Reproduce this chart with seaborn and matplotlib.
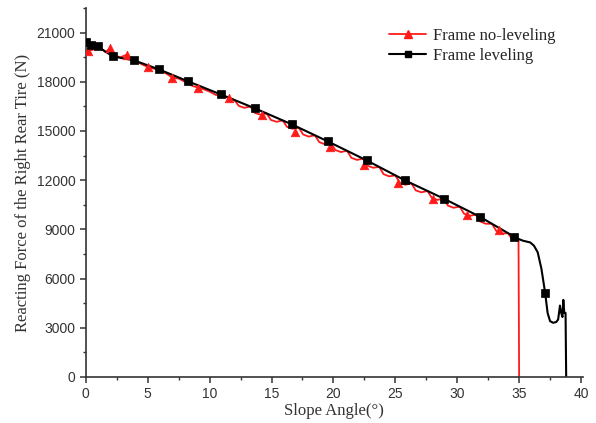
import numpy as np
import pandas as pd
import seaborn as sns
import matplotlib
matplotlib.use("Agg")
import matplotlib.pyplot as plt
from matplotlib.lines import Line2D
from matplotlib.ticker import MultipleLocator

# red curve: frame without leveling
red_x = [0.0, 0.3, 0.8, 1.2, 1.6, 1.95, 2.3, 2.8, 3.3, 3.7, 4.3, 5.0, 5.5, 6.0,
         6.5, 7.0, 7.5, 8.0, 8.6, 9.05, 9.5, 10.0, 10.5, 11.0, 11.6,
         12.0, 12.35, 12.8, 13.3, 13.65, 14.1, 14.6, 14.95, 15.4,
         15.9, 16.25, 16.7, 17.2, 17.55, 18.0, 18.5, 18.85, 19.3,
         19.8, 20.15, 20.6, 21.1, 21.45, 21.9, 22.4, 22.75, 23.2,
         23.7, 24.05, 24.5, 25.0, 25.35, 25.8, 26.3, 26.65, 27.1,
         27.6, 27.95, 28.4, 28.9, 29.25, 29.7, 30.2, 30.55, 31.0,
         31.5, 31.85, 32.3, 32.8, 33.15, 33.6, 34.1, 34.45, 34.95, 35.0]
red_y = [19850, 19900, 20000, 20050, 19800, 20050, 19600, 19500, 19650, 19300,
         19150, 18900, 18800, 18700, 18500, 18250, 18200, 18000, 17750, 17650,
         17550, 17400, 17200, 17150, 17000,
         16891, 16533, 16415, 16491, 16103, 15995, 16072, 15677, 15560,
         15645, 15250, 15133, 15204, 14789, 14658, 14740, 14325, 14194,
         14271, 13842, 13716, 13792, 13363, 13237, 13312, 12883, 12757,
         12806, 12368, 12231, 12294, 11856, 11719, 11802, 11378, 11258,
         11341, 10917, 10797, 10880, 10447, 10317, 10387, 9954, 9824,
         9895, 9482, 9342, 9341, 8907, 8740, 8770, 8366, 8350, 0]
red_mark_x = [0.2, 1.95, 3.3, 5.0, 7.0, 9.05, 11.6, 14.2, 16.9, 19.7, 22.5,
              25.2, 28.05, 30.8, 33.4]
red_mark_y = [19900, 20050, 19620, 18880, 18210, 17650, 17030, 15950, 14920,
              14000, 12950, 11800, 10880, 9900, 8980]

# black curve: frame with leveling
black_x = [0.0, 0.05, 0.45, 0.95, 2.18, 3.88, 5.9, 8.25, 10.9, 13.66, 16.65,
           19.56, 22.7, 25.8, 28.9, 31.8, 34.6, 35.0, 35.3, 35.9, 36.2, 36.5,
           36.8, 37.1, 37.3, 37.5, 37.75, 38.0, 38.15, 38.3, 38.4, 38.5,
           38.57, 38.65, 38.75, 38.8]
black_y = [20450, 20400, 20250, 20160, 19550, 19310, 18760, 18030, 17230,
           16380, 15400, 14360, 13200, 11980, 10880, 9780, 8550, 8400, 8310,
           8200, 8000, 7600, 6600, 5130, 3900, 3400, 3300, 3350, 3500, 4350,
           3900, 3650, 4700, 3900, 3900, 0]
black_mark_x = [0.05, 0.45, 0.95, 2.18, 3.88, 5.9, 8.25, 10.9, 13.66, 16.65,
                19.56, 22.7, 25.8, 28.9, 31.8, 34.6, 37.1]
black_mark_y = [20400, 20250, 20160, 19550, 19310, 18760, 18030, 17230, 16380,
                15400, 14360, 13200, 11980, 10880, 9780, 8550, 5130]

red_df = pd.DataFrame({"angle": red_x, "force": red_y})
black_df = pd.DataFrame({"angle": black_x, "force": black_y})

sns.set_style("ticks")
plt.rcParams["font.family"] = ["Liberation Sans", "DejaVu Sans"]

fig = plt.figure(figsize=(5.96, 4.23), dpi=100)
ax = fig.add_axes([0.144, 0.109, 0.834, 0.872])

red = "#ff1a1a"
sns.lineplot(data=red_df, x="angle", y="force", sort=False, estimator=None,
             color=red, linewidth=1.3, ax=ax)
sns.lineplot(data=black_df, x="angle", y="force", sort=False, estimator=None,
             color="black", linewidth=1.5, ax=ax)
sns.scatterplot(x=red_mark_x, y=red_mark_y, marker="^", color=red, s=38,
                edgecolor=red, linewidth=0.5, zorder=3, ax=ax)
sns.scatterplot(x=black_mark_x, y=black_mark_y, marker="s", color="black",
                s=26, edgecolor="black", linewidth=0.5, zorder=4, ax=ax)

ax.set_xlim(0, 40.15)
ax.set_ylim(0, 22500)
ax.xaxis.set_major_locator(MultipleLocator(5))
ax.xaxis.set_minor_locator(MultipleLocator(2.5))
ax.yaxis.set_major_locator(MultipleLocator(3000))
ax.yaxis.set_minor_locator(MultipleLocator(1500))
ax.tick_params(which="major", direction="out", length=4, width=1.1,
               labelsize=10, labelcolor="#333333", color="#333333")
ax.tick_params(which="minor", direction="out", length=2.5, width=1.0,
               color="#333333")
for s in ["left", "bottom"]:
    ax.spines[s].set_linewidth(1.2)
    ax.spines[s].set_color("#333333")
sns.despine(ax=ax)

serif = ["Liberation Serif", "DejaVu Serif"]
ax.set_xlabel("Slope Angle(°)", family=serif, fontsize=12, color="#333333",
              labelpad=1)
ax.set_ylabel("Reacting Force of the Right Rear Tire (N)", family=serif,
              fontsize=12, color="#333333", labelpad=4)

handles = [Line2D([], [], color=red, marker="^", markersize=6, linewidth=1.3),
           Line2D([], [], color="black", marker="s", markersize=5, linewidth=1.5)]
ax.legend(handles, ["Frame no-leveling", "Frame leveling"], frameon=False,
          loc="upper right", bbox_to_anchor=(0.976, 0.986), handlelength=2.2,
          prop={"family": serif, "size": 12}, labelspacing=0.2,
          handletextpad=0.45)

fig.savefig("out.png", dpi=100)
